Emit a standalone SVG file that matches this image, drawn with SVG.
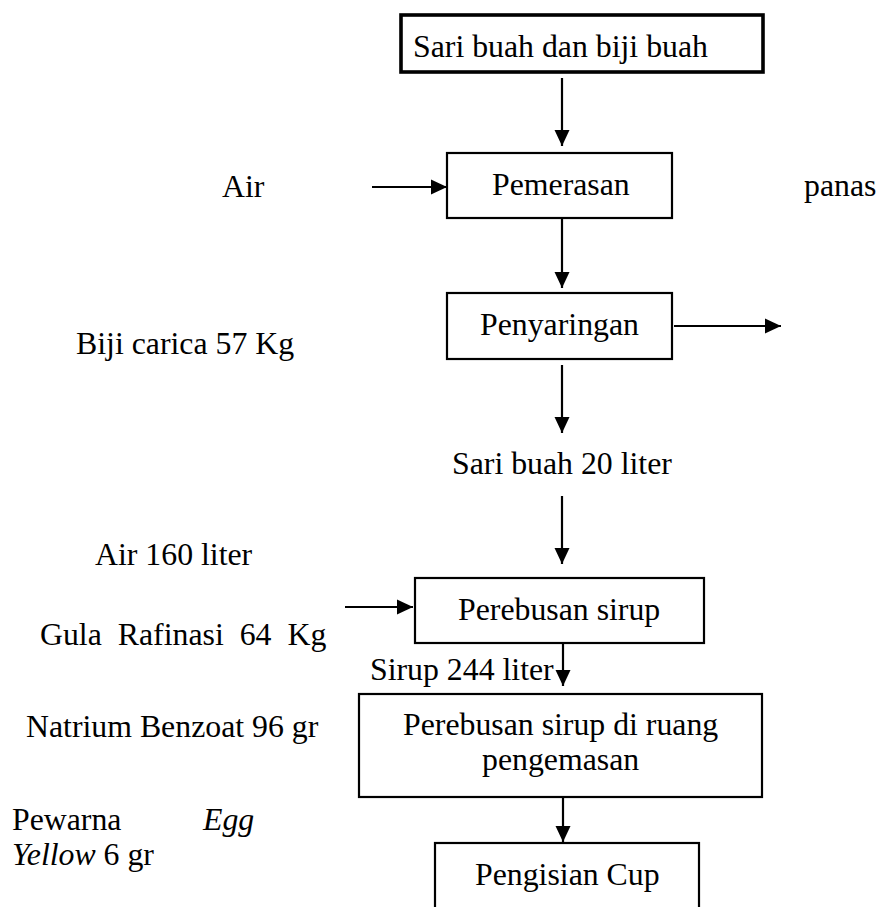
<svg xmlns="http://www.w3.org/2000/svg" width="880" height="907" viewBox="0 0 880 907">
<style>
text{font-family:"Liberation Serif","Times New Roman",serif;font-size:31.8px;fill:#000}
.box{fill:#fff;stroke:#000;stroke-width:2.2}
.thick{stroke-width:3.6}
.ln{stroke:#000;stroke-width:2.2;fill:none;marker-end:url(#ah)}
.it{font-style:italic}
</style>
<defs>
<marker id="ah" markerUnits="userSpaceOnUse" markerWidth="16" markerHeight="16" viewBox="0 0 16 16" refX="16" refY="8" orient="auto">
<path d="M0,0.5 L16,8 L0,15.5 Z" fill="#000"/>
</marker>
</defs>
<g id="n1"><rect class="box thick" x="401" y="15" width="362" height="57"/><text x="413" y="57">Sari buah dan biji buah</text></g>
<g id="n2"><rect class="box" x="447" y="153" width="225" height="65"/><text x="492" y="195">Pemerasan</text></g>
<g id="n3"><rect class="box" x="447" y="293" width="225" height="66"/><text x="480" y="335">Penyaringan</text></g>
<g id="n4"><rect class="box" x="415" y="578" width="289" height="65"/><text x="458" y="620">Perebusan sirup</text></g>
<g id="n5"><rect class="box" x="359" y="694" width="403" height="103"/><text x="403" y="735">Perebusan sirup di ruang</text><text x="482" y="770">pengemasan</text></g>
<g id="n6"><rect class="box" x="435" y="843" width="264" height="90"/><text x="475" y="885">Pengisian Cup</text></g>
<g id="labels">
<text x="222" y="197">Air</text>
<text x="804" y="196">panas</text>
<text x="76" y="354">Biji carica 57 Kg</text>
<text x="452" y="474">Sari buah 20 liter</text>
<text x="95" y="565">Air 160 liter</text>
<text x="40" y="645" word-spacing="8">Gula Rafinasi 64 Kg</text>
<text x="370" y="680">Sirup 244 liter</text>
<text x="26" y="737">Natrium Benzoat 96 gr</text>
<text x="12" y="830">Pewarna</text>
<text x="203" y="830" class="it">Egg</text>
<text x="12" y="865"><tspan class="it">Yellow</tspan> 6 gr</text>
</g>
<g id="connectors">
<line class="ln" x1="562" y1="78" x2="562" y2="146"/>
<line class="ln" x1="372" y1="187" x2="447" y2="187"/>
<line class="ln" x1="562" y1="218" x2="562" y2="288"/>
<line class="ln" x1="674" y1="326" x2="781" y2="326"/>
<line class="ln" x1="562" y1="365" x2="562" y2="433"/>
<line class="ln" x1="562" y1="496" x2="562" y2="564"/>
<line class="ln" x1="345" y1="607" x2="413" y2="607"/>
<line class="ln" x1="563" y1="643" x2="563" y2="686"/>
<line class="ln" x1="563" y1="797" x2="563" y2="842"/>
</g>
</svg>
